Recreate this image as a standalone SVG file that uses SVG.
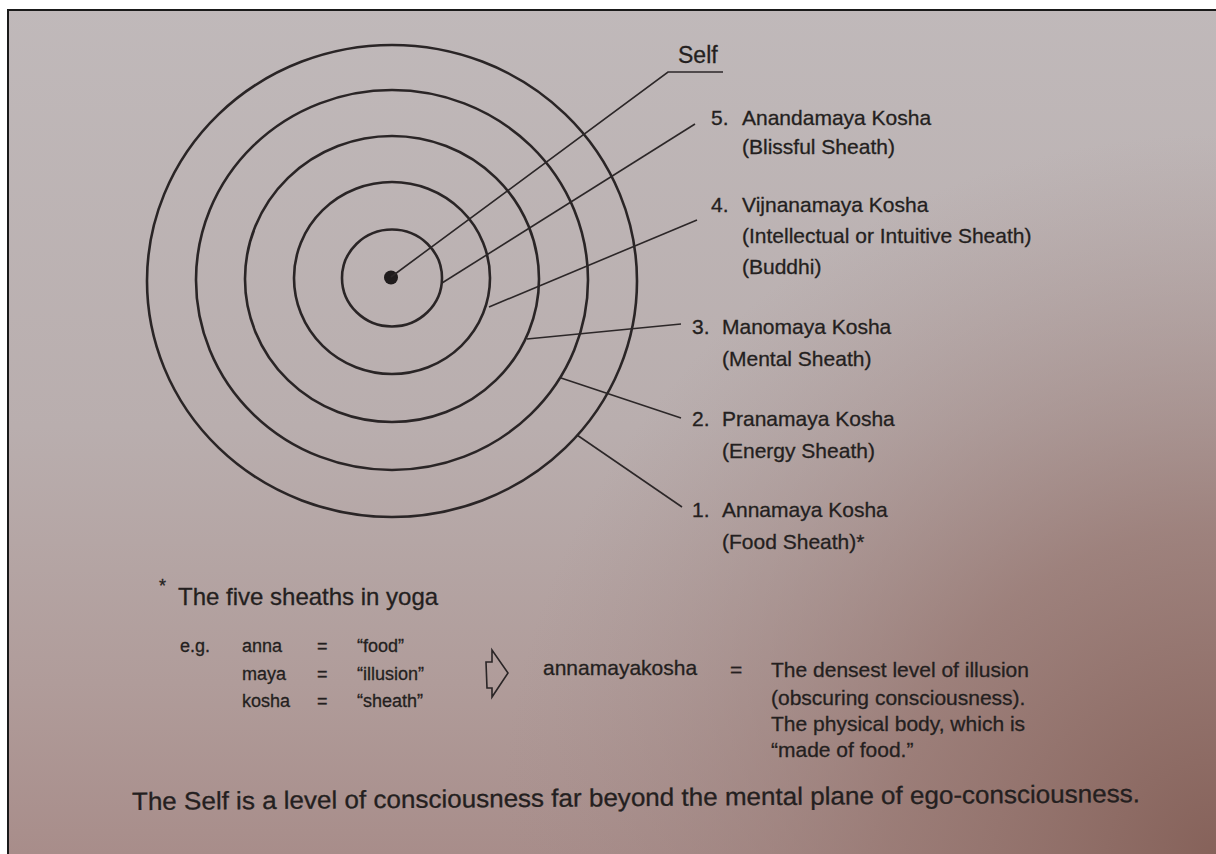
<svg xmlns="http://www.w3.org/2000/svg" width="1216" height="854" viewBox="0 0 1216 854">
<style>
.t{font-family:"Liberation Sans",Arial,sans-serif;fill:#241f20;stroke:#241f20;stroke-width:0.3}
.lab{font-size:21px}
.sm{font-size:18px}
.ring{fill:none;stroke:#2a2526;stroke-width:2.6}
.lead{fill:none;stroke:#2c2728;stroke-width:1.6}
</style>
<defs>
<linearGradient id="bg" gradientUnits="userSpaceOnUse" x1="0" y1="0" x2="0" y2="854">
<stop offset="0" stop-color="#c0b9ba"/>
<stop offset="0.5" stop-color="#b9aeae"/>
<stop offset="0.8" stop-color="#b09c9a"/>
<stop offset="1" stop-color="#a88d8a"/>
</linearGradient>
<radialGradient id="shade" gradientUnits="userSpaceOnUse" cx="1216" cy="854" r="720">
<stop offset="0" stop-color="#86625a" stop-opacity="1"/>
<stop offset="0.45" stop-color="#967670" stop-opacity="0.75"/>
<stop offset="1" stop-color="#a48e8c" stop-opacity="0"/>
</radialGradient>
</defs>
<rect x="0" y="0" width="1216" height="854" fill="#ffffff"/>
<rect x="8" y="10" width="1208" height="844" fill="url(#bg)"/>
<rect x="8" y="10" width="1208" height="844" fill="url(#shade)"/>
<path d="M8 854 V10 H1216" fill="none" stroke="#1a1a1a" stroke-width="2"/>

<g id="rings">
<ellipse class="ring" cx="392" cy="281" rx="245" ry="236"/>
<ellipse class="ring" cx="392" cy="280" rx="196" ry="190"/>
<ellipse class="ring" cx="392" cy="279" rx="147" ry="143"/>
<ellipse class="ring" cx="392" cy="278" rx="98" ry="96"/>
<ellipse class="ring" cx="392" cy="278" rx="50" ry="48.5"/>
<circle cx="391" cy="277.5" r="7" fill="#201c1d"/>
</g>

<g id="connectors">
<path class="lead" d="M391 277 L668 72 H723"/>
<path class="lead" d="M442 283 L695 124"/>
<path class="lead" d="M489 307 L697 220"/>
<path class="lead" d="M527 339 L681 324"/>
<path class="lead" d="M561 378 L681 418"/>
<path class="lead" d="M577 435 L682 507"/>
</g>

<g id="self"><text class="t" x="678" y="63" font-size="23">Self</text></g>

<g id="kosha5" class="t lab">
<text x="711" y="125">5.</text><text x="742" y="125">Anandamaya Kosha</text>
<text x="742" y="154">(Blissful Sheath)</text>
</g>
<g id="kosha4" class="t lab">
<text x="711" y="212">4.</text><text x="742" y="212">Vijnanamaya Kosha</text>
<text x="742" y="243">(Intellectual or Intuitive Sheath)</text>
<text x="742" y="274">(Buddhi)</text>
</g>
<g id="kosha3" class="t lab">
<text x="692" y="334">3.</text><text x="722" y="334">Manomaya Kosha</text>
<text x="722" y="366">(Mental Sheath)</text>
</g>
<g id="kosha2" class="t lab">
<text x="692" y="426">2.</text><text x="722" y="426">Pranamaya Kosha</text>
<text x="722" y="458">(Energy Sheath)</text>
</g>
<g id="kosha1" class="t lab">
<text x="692" y="517">1.</text><text x="722" y="517">Annamaya Kosha</text>
<text x="722" y="549">(Food Sheath)*</text>
</g>

<g id="footnote" class="t">
<text x="159" y="592" font-size="18">*</text>
<text x="178" y="605" font-size="24">The five sheaths in yoga</text>
</g>

<g id="etymology" class="t sm">
<text x="180" y="652">e.g.</text>
<text x="242" y="652">anna</text><text x="317" y="652">=</text><text x="357" y="652">“food”</text>
<text x="242" y="680">maya</text><text x="317" y="680">=</text><text x="357" y="680">“illusion”</text>
<text x="242" y="707">kosha</text><text x="317" y="707">=</text><text x="357" y="707">“sheath”</text>
</g>

<g id="arrow">
<polygon points="486,662 492,662 492,650 508,673 492,697 492,688 487,688" fill="none" stroke="#2a2526" stroke-width="1.6" stroke-linejoin="miter"/>
</g>

<g id="definition" class="t lab">
<text x="543" y="675">annamayakosha</text>
<text x="730" y="677">=</text>
<text x="771" y="677">The densest level of illusion</text>
<text x="771" y="705">(obscuring consciousness).</text>
<text x="771" y="731">The physical body, which is</text>
<text x="771" y="757">“made of food.”</text>
</g>

<g id="caption">
<text class="t" x="132" y="810" font-size="25" textLength="1008" lengthAdjust="spacingAndGlyphs" transform="rotate(-0.45 132 810)">The Self is a level of consciousness far beyond the mental plane of ego-consciousness.</text>
</g>
</svg>
